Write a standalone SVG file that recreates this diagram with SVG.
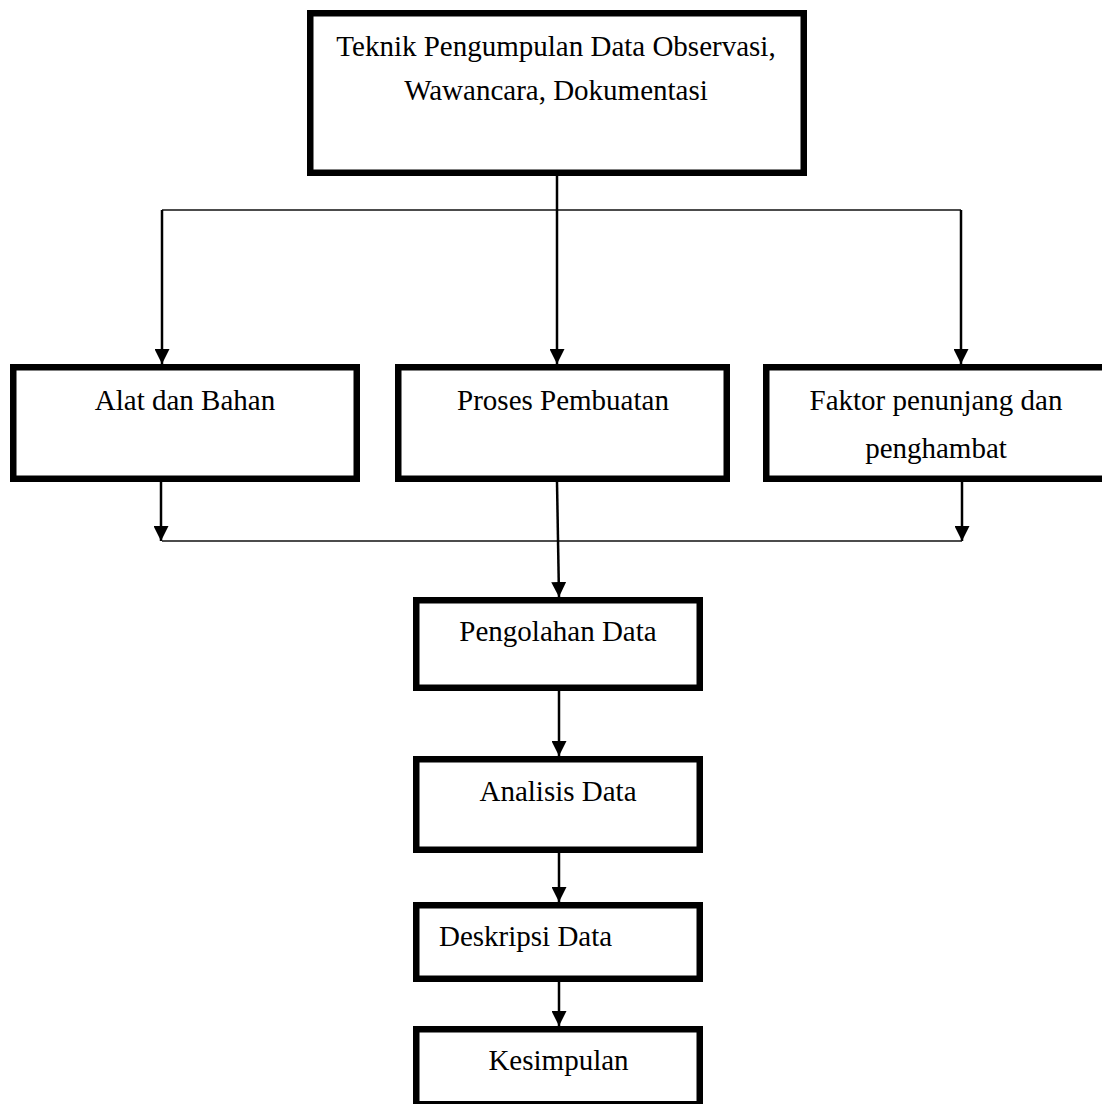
<svg xmlns="http://www.w3.org/2000/svg" width="1102" height="1104" viewBox="0 0 1102 1104">
<style>
.box{fill:#fff;stroke:#000;stroke-width:6.5}
.lbl{font-family:"Liberation Serif","Times New Roman",serif;font-size:29px;fill:#000}
.c{text-anchor:middle}
.v{stroke:#000;stroke-width:2.5;fill:none}
.h{stroke:#111;stroke-width:1.5;fill:none}
</style>
<defs>
<marker id="ah" markerUnits="userSpaceOnUse" markerWidth="15" markerHeight="15" refX="15" refY="7.5" orient="auto">
<path d="M0,0 L15,7.5 L0,15 z" fill="#000"/>
</marker>
</defs>
<rect width="1102" height="1104" fill="#fff"/>
<g id="connectors">
<line class="h" x1="162" y1="210" x2="961" y2="210"/>
<line class="v" x1="557" y1="176" x2="557" y2="364" marker-end="url(#ah)"/>
<line class="v" x1="162" y1="210" x2="162" y2="364" marker-end="url(#ah)"/>
<line class="v" x1="961" y1="210" x2="961" y2="364" marker-end="url(#ah)"/>
<line class="v" x1="161" y1="482" x2="161" y2="541" marker-end="url(#ah)"/>
<line class="v" x1="962" y1="482" x2="962" y2="541" marker-end="url(#ah)"/>
<line class="h" x1="162" y1="541" x2="962" y2="541"/>
<line class="v" x1="557" y1="482" x2="559" y2="597" marker-end="url(#ah)"/>
<line class="v" x1="559" y1="691" x2="559" y2="756" marker-end="url(#ah)"/>
<line class="v" x1="559" y1="853" x2="559" y2="902" marker-end="url(#ah)"/>
<line class="v" x1="559" y1="982" x2="559" y2="1026" marker-end="url(#ah)"/>
</g>
<g id="node-teknik">
<rect class="box" x="310.25" y="13.25" width="493.5" height="159.5"/>
<text class="lbl c" x="556" y="56">Teknik Pengumpulan Data Observasi,</text>
<text class="lbl c" x="556" y="100">Wawancara, Dokumentasi</text>
</g>
<g id="node-alat">
<rect class="box" x="13.25" y="367.25" width="343.5" height="111.5"/>
<text class="lbl c" x="185" y="410">Alat dan Bahan</text>
</g>
<g id="node-proses">
<rect class="box" x="398.25" y="367.25" width="328.5" height="111.5"/>
<text class="lbl c" x="563" y="410">Proses Pembuatan</text>
</g>
<g id="node-faktor">
<rect class="box" x="766.25" y="367.25" width="339.5" height="111.5"/>
<text class="lbl c" x="936" y="410">Faktor penunjang dan</text>
<text class="lbl c" x="936" y="458">penghambat</text>
</g>
<g id="node-pengolahan">
<rect class="box" x="416.25" y="600.25" width="283.5" height="87.5"/>
<text class="lbl c" x="558" y="641">Pengolahan Data</text>
</g>
<g id="node-analisis">
<rect class="box" x="416.25" y="759.25" width="283.5" height="90.5"/>
<text class="lbl c" x="558" y="801">Analisis Data</text>
</g>
<g id="node-deskripsi">
<rect class="box" x="416.25" y="905.25" width="283.5" height="73.5"/>
<text class="lbl" x="439" y="946">Deskripsi Data</text>
</g>
<g id="node-kesimpulan">
<rect class="box" x="416.25" y="1029.25" width="283.5" height="75"/>
<text class="lbl c" x="558.5" y="1070">Kesimpulan</text>
</g>
</svg>
